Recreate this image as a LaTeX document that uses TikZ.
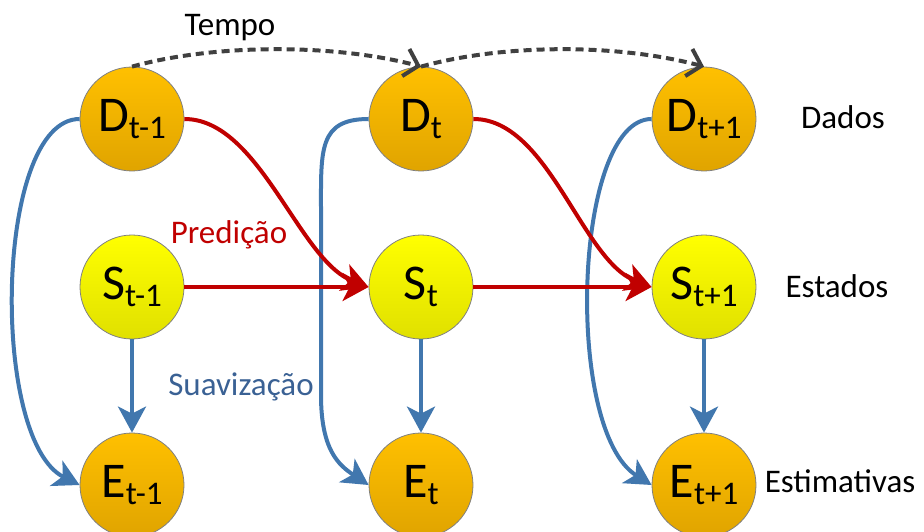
\documentclass[tikz,border=0pt]{standalone}
\usepackage{fontspec}
\setmainfont{Carlito}
\usetikzlibrary{arrows.meta}
\definecolor{orangeT}{HTML}{FFC000}
\definecolor{orangeB}{HTML}{E0A400}
\definecolor{yelT}{HTML}{FFFF00}
\definecolor{yelB}{HTML}{E0E000}
\definecolor{blueA}{HTML}{4177AE}
\definecolor{redA}{HTML}{C00000}
\definecolor{blueT}{HTML}{3A6194}
\definecolor{dashG}{HTML}{404040}
\newcommand{\vlbl}[2]{{\fontsize{50}{54}\selectfont #1\raisebox{-7pt}{\fontsize{33}{35}\selectfont #2}}}
\tikzset{
  onode/.style={circle, minimum size=104pt, inner sep=0pt, draw=gray, line width=0.8pt, top color=orangeT, bottom color=orangeB},
  ynode/.style={circle, minimum size=104pt, inner sep=0pt, draw=gray, line width=0.8pt, top color=yelT, bottom color=yelB},
  bluearr/.style={draw=blueA, line width=4pt, -{Stealth[length=26pt, width=28pt, inset=7pt]}},
  redarr/.style={draw=redA, line width=4pt, -{Stealth[length=26pt, width=28pt, inset=7pt]}},
  timearr/.style={draw=dashG, line width=4pt, dash pattern=on 8pt off 5pt, -{Straight Barb[length=13pt, width=28pt, line width=4pt]}},
  lbltext/.style={font=\fontsize{33}{36}\selectfont, inner sep=0pt, anchor=base}
}
\begin{document}
\begin{tikzpicture}[x=1pt, y=-1pt]
\useasboundingbox (0,0) rectangle (924,532);
% nodes
\node[onode] (Dm) at (132,119) {\vlbl{D}{t-1}};
\node[onode] (D0) at (421,119) {\vlbl{D}{t}};
\node[onode] (Dp) at (704,119) {\vlbl{D}{t+1}};
\node[ynode] (Sm) at (132,287) {\vlbl{S}{t-1}};
\node[ynode] (S0) at (421,287) {\vlbl{S}{t}};
\node[ynode] (Sp) at (704,287) {\vlbl{S}{t+1}};
\node[onode] (Em) at (132,485) {\vlbl{E}{t-1}};
\node[onode] (E0) at (421,485) {\vlbl{E}{t}};
\node[onode] (Ep) at (704,485) {\vlbl{E}{t+1}};
% labels
\node[lbltext] (tempo) at (230,36) {Tempo};
\node[lbltext, text=redA] (pred) at (229,243) {Predição};
\node[lbltext, text=blueT] (suav) at (241,395) {Suavização};
\node[lbltext] (dados) at (843,129) {Dados};
\node[lbltext] (estados) at (837,297) {Estados};
\node[lbltext] (estim) at (840,492) {Estimativas};
% blue loops D -> E
\draw[bluearr] (Dm.west) .. controls +(-85,0) and +(-90,-45) .. (Em.west);
\draw[bluearr] (D0.west) .. controls +(-50,0) and +(0,-60) .. (321,210) -- (321,395) .. controls +(0,55) and +(-30,-20) .. (E0.west);
\draw[bluearr] (Dp.west) .. controls +(-78,0) and +(-88,-55) .. (Ep.west);
% blue S -> E
\draw[bluearr] (Sm.south) -- (Em.north);
\draw[bluearr] (S0.south) -- (E0.north);
\draw[bluearr] (Sp.south) -- (Ep.north);
% red
\draw[redarr] (Dm.east) .. controls +(75,0) and +(-70,-27) .. (S0.west);
\draw[redarr] (D0.east) .. controls +(75,0) and +(-70,-27) .. (Sp.west);
\draw[redarr] (Sm.east) -- (S0.west);
\draw[redarr] (S0.east) -- (Sp.west);
% time
\draw[timearr] (Dm.north) .. controls +(83,-23) and +(-86,-23) .. (D0.north);
\draw[timearr] (D0.north) .. controls +(83,-23) and +(-86,-23) .. (Dp.north);
\end{tikzpicture}
\end{document}
